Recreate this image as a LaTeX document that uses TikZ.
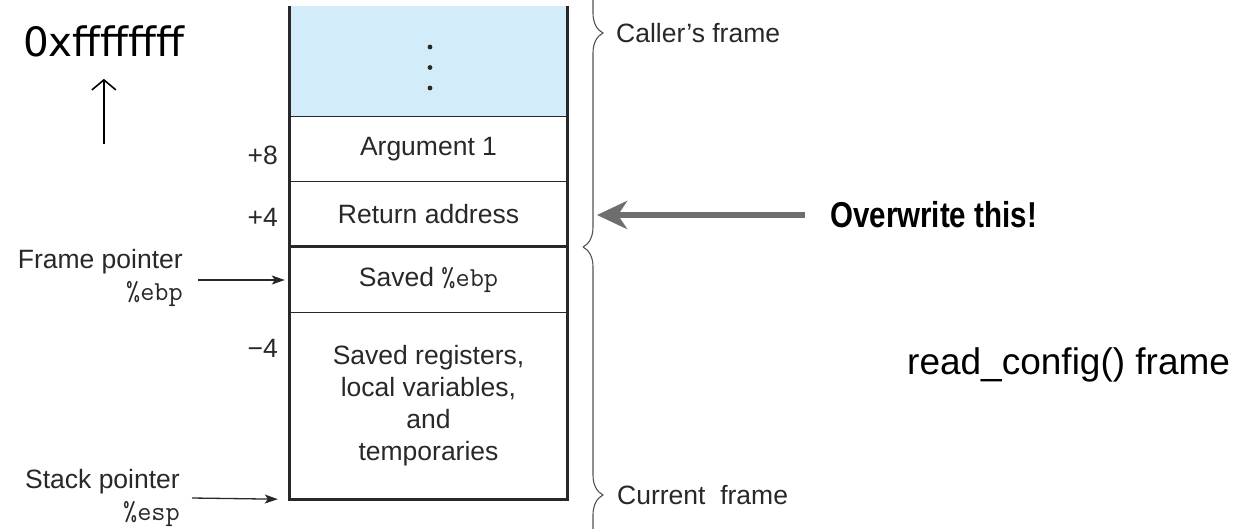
\documentclass[tikz,border=0pt]{standalone}
\usepackage{fontspec}
\setmainfont{Liberation Sans}
\newfontfamily\hexfont{DejaVu Sans}
\newfontfamily\owfont{Liberation Sans}[FakeStretch=0.82]
\usetikzlibrary{arrows.meta,decorations.pathreplacing}
\definecolor{callerblue}{RGB}{211,236,249}
\definecolor{inkgray}{RGB}{40,40,40}
\definecolor{arrowgray}{RGB}{110,110,110}
\newcommand{\reg}[1]{{\fontsize{27.5}{31}\selectfont\ttfamily\%#1}}

\begin{document}
\begin{tikzpicture}[x=1pt, y=-1pt,
    lbl/.style={inner sep=0pt, text=inkgray, font=\fontsize{26.5}{32}\selectfont},
    cell/.style={lbl, minimum width=277pt, align=center},
    thinline/.style={line width=1.3pt, inkgray},
    thickline/.style={line width=2.8pt, inkgray},
    ptr/.style={-{Stealth[length=13pt,width=9pt,inset=3pt]}, line width=1.3pt, inkgray},
    framebrace/.style={decorate, decoration={brace, amplitude=20pt}, line width=1.1pt, inkgray!80},
    bigarrow/.style={-{Stealth[length=30pt,width=28pt,inset=9pt]}, line width=5.5pt, arrowgray}]
  \useasboundingbox (0,0) rectangle (1242,528);
  % braces run off the page
  \clip (0,0) rectangle (1242,528);
  % Stack cells
  \node[cell, minimum height=111pt, fill=callerblue] (dots) at (428.5,61.5) {};
  \node[cell, minimum height=65pt] (arg) at (428.5,149.5) {Argument 1};
  \node[cell, minimum height=65pt] (ret) at (428.5,214.5) {Return address};
  \node[cell, minimum height=66pt] (ebp) at (428.5,280) {Saved \reg{ebp}};
  \node[cell, minimum height=186pt] (regs) at (428.5,406) {Saved registers,\\local variables,\\and\\temporaries};
  \foreach \y in {47,67.5,88} \fill[inkgray] (430,\y) circle (2.4pt);
  % Cell borders
  \foreach \c in {arg,ret,regs} \draw[thinline] (\c.north west) -- (\c.north east);
  \draw[thickline] (ebp.north west) -- (ebp.north east);
  \draw[thickline] (dots.north west) -- (regs.south west) -- (regs.south east) -- (dots.north east);
  % Offsets
  \foreach \t/\y/\n in {+8/155/p8, +4/217/p4, −4/348/m4}
    \node[lbl, anchor=east] (off\n) at (278,\y) {\t};
  % Pointers
  \node[lbl, anchor=east, align=right] (fp) at (183,278) {Frame pointer\\\reg{ebp}};
  \node[lbl, anchor=east, align=right] (sp) at (180,498) {Stack pointer\\\reg{esp}};
  \draw[ptr] ([xshift=15pt]fp.east |- ebp.west) -- ([xshift=-5pt]ebp.west);
  \draw[ptr] ([xshift=12pt]sp.east) -- ([xshift=-12pt]regs.south west);
  % Frames
  \draw[framebrace] (583,-181) -- (583,247);
  \draw[framebrace] (583,247) -- (583,743);
  \node[lbl, anchor=west] (caller) at (616,33) {Caller’s frame};
  \node[lbl, anchor=west] (current) at (617,495) {Current\ \ frame};
  % Address direction
  \node[inner sep=0pt, anchor=west, font=\hexfont\fontsize{40.5}{42}\selectfont] (hex) at (23,41) {0xffffffff};
  \draw[-{Straight Barb[length=10pt,width=24pt]}, line width=1.6pt] ([yshift=-87pt]hex.south) -- ([yshift=-22pt]hex.south);
  % Attack
  \node[inner sep=0pt, anchor=west, font=\owfont\bfseries\fontsize{36}{40}\selectfont] (ow) at (830,215) {Overwrite this!};
  \coordinate (hit) at (597,215);
  \draw[bigarrow] ([xshift=-25pt]ow.west) -- (hit);
  \node[inner sep=0pt, anchor=west, font=\fontsize{37}{40}\selectfont] (rc) at (907,365) {read\_config() frame};
\end{tikzpicture}
\end{document}
